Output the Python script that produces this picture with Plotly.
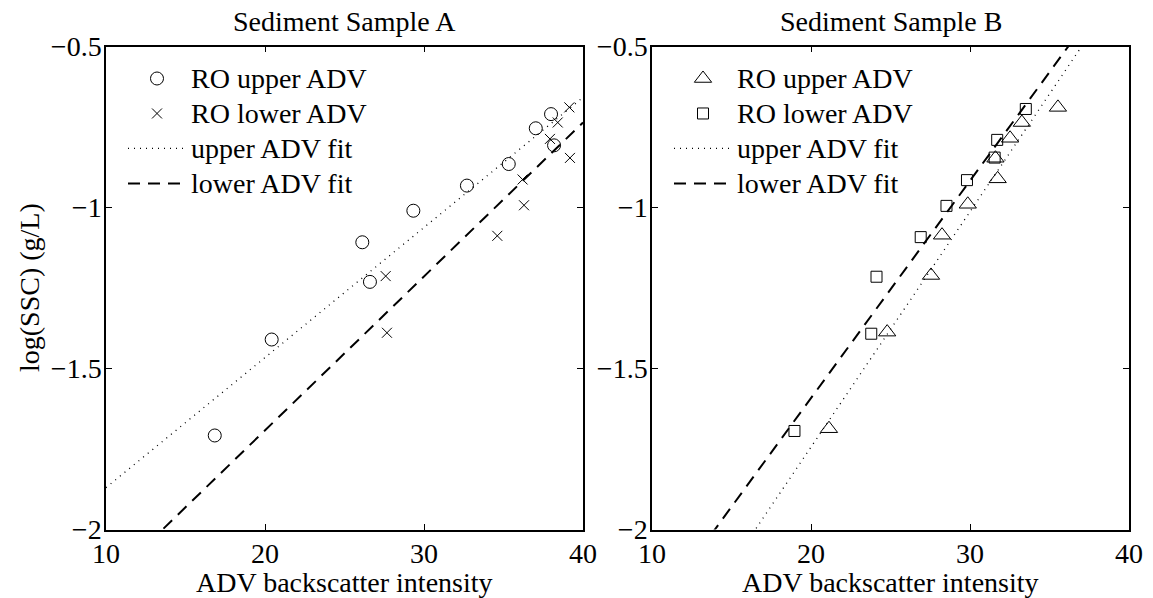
import plotly.graph_objects as go

# Sediment Sample A: ADV backscatter intensity vs log(SSC)
a_upper_x = [16.84, 20.42, 26.12, 26.60, 29.33, 32.70, 35.33, 37.03, 37.99, 38.18]
a_upper_y = [-1.708, -1.410, -1.108, -1.231, -1.010, -0.932, -0.865, -0.754, -0.710, -0.807]
a_lower_x = [27.67, 27.59, 34.61, 36.29, 36.20, 39.18, 37.92, 38.41, 39.14]
a_lower_y = [-1.389, -1.213, -1.088, -0.993, -0.913, -0.846, -0.787, -0.736, -0.689]

# Sediment Sample B
b_upper_x = [21.13, 24.79, 27.55, 28.24, 29.86, 31.74, 31.60, 32.52, 33.26, 35.53]
b_upper_y = [-1.687, -1.387, -1.211, -1.086, -0.990, -0.911, -0.847, -0.785, -0.736, -0.689]
b_lower_x = [18.96, 23.79, 24.12, 26.90, 28.52, 29.81, 31.55, 31.71, 33.51]
b_lower_y = [-1.694, -1.392, -1.215, -1.092, -0.995, -0.915, -0.845, -0.790, -0.694]

# Linear fits, evaluated at the ends of the x range
fit_x = [10, 40]
a_upper_fit = [-1.870, -0.658]
a_lower_fit = [-2.170, -0.736]
b_upper_fit = [-2.475, -0.282]
b_lower_fit = [-2.267, -0.242]

x_ticks = [10, 20, 30, 40]
y_ticks = [-2, -1.5, -1, -0.5]

FONT = "Liberation Serif, Times New Roman, serif"
FS = 28
LEG_FS = 24.6   # sets the legend row pitch; entry text is drawn at FS
W, H = 1153, 598

fig = go.Figure()

def entry(label):
    return f'<span style="font-size:{FS}px">{label}</span>'

def add_panel(xa, ya, legend, up_x, up_y, up_sym, up_size, lo_x, lo_y, lo_sym, lo_size, up_fit, lo_fit):
    fig.add_trace(go.Scatter(x=up_x, y=up_y, mode="markers", name=entry("RO upper ADV"),
                             marker=dict(symbol=up_sym, size=up_size, color="black",
                                         line=dict(width=1, color="black")),
                             xaxis=xa, yaxis=ya, legend=legend))
    fig.add_trace(go.Scatter(x=lo_x, y=lo_y, mode="markers", name=entry("RO lower ADV"),
                             marker=dict(symbol=lo_sym, size=lo_size, color="black",
                                         line=dict(width=1, color="black")),
                             xaxis=xa, yaxis=ya, legend=legend))
    fig.add_trace(go.Scatter(x=fit_x, y=up_fit, mode="lines", name=entry("upper ADV fit"),
                             line=dict(color="black", width=1.3, dash="1px,5px"),
                             xaxis=xa, yaxis=ya, legend=legend))
    fig.add_trace(go.Scatter(x=fit_x, y=lo_fit, mode="lines", name=entry("lower ADV fit"),
                             line=dict(color="black", width=2, dash="12px,8px"),
                             xaxis=xa, yaxis=ya, legend=legend))

add_panel("x", "y", "legend", a_upper_x, a_upper_y, "circle-open", 13,
          a_lower_x, a_lower_y, "x-thin-open", 10, a_upper_fit, a_lower_fit)
add_panel("x2", "y2", "legend2", b_upper_x, b_upper_y, "triangle-up-open", 15,
          b_lower_x, b_lower_y, "square-open", 11, b_upper_fit, b_lower_fit)

px_x = lambda p: p / W
px_y = lambda p: 1 - p / H

left_dom = [px_x(106), px_x(583)]
right_dom = [px_x(652), px_x(1129)]
y_dom = [px_y(529.5), px_y(46.5)]

axis_common = dict(showline=True, linecolor="black", linewidth=1.5, mirror="ticks",
                   ticks="inside", ticklen=6, tickwidth=1, tickcolor="black",
                   showgrid=False, zeroline=False, automargin=False,
                   tickfont=dict(family=FONT, size=FS, color="black"))

legend_common = dict(xanchor="left", yanchor="top", bgcolor="rgba(0,0,0,0)",
                     borderwidth=0, itemwidth=58, tracegroupgap=0,
                     font=dict(family=FONT, size=LEG_FS, color="black"))

fig.update_layout(
    width=W, height=H, autosize=False,
    margin=dict(l=0, r=0, t=0, b=0, pad=0, autoexpand=False),
    paper_bgcolor="white", plot_bgcolor="white",
    font=dict(family=FONT, size=FS, color="black"),
    xaxis=dict(domain=left_dom, range=[10, 40], tickvals=x_ticks, anchor="y",
               ticklabelstandoff=-2, **axis_common),
    yaxis=dict(domain=y_dom, range=[-2, -0.5], tickvals=y_ticks, anchor="x",
               ticklabelstandoff=-3, **axis_common),
    xaxis2=dict(domain=right_dom, range=[10, 40], tickvals=x_ticks, anchor="y2",
                ticklabelstandoff=-2, **axis_common),
    yaxis2=dict(domain=y_dom, range=[-2, -0.5], tickvals=y_ticks, anchor="x2",
                ticklabelstandoff=-3, **axis_common),
    legend=dict(x=px_x(123), y=px_y(56), **legend_common),
    legend2=dict(x=px_x(669), y=px_y(56), **legend_common),
    showlegend=True,
)

annotations = [
    dict(text="Sediment Sample A", x=(left_dom[0] + left_dom[1]) / 2, y=px_y(22)),
    dict(text="Sediment Sample B", x=(right_dom[0] + right_dom[1]) / 2, y=px_y(22)),
    dict(text="ADV backscatter intensity", x=(left_dom[0] + left_dom[1]) / 2, y=px_y(582)),
    dict(text="ADV backscatter intensity", x=(right_dom[0] + right_dom[1]) / 2, y=px_y(582)),
    dict(text="log(SSC) (g/L)", x=px_x(29), y=(y_dom[0] + y_dom[1]) / 2, textangle=-90),
]
for a in annotations:
    fig.add_annotation(xref="paper", yref="paper", showarrow=False,
                       xanchor="center", yanchor="middle",
                       font=dict(family=FONT, size=FS, color="black"), **a)

fig.write_html("out.html")
